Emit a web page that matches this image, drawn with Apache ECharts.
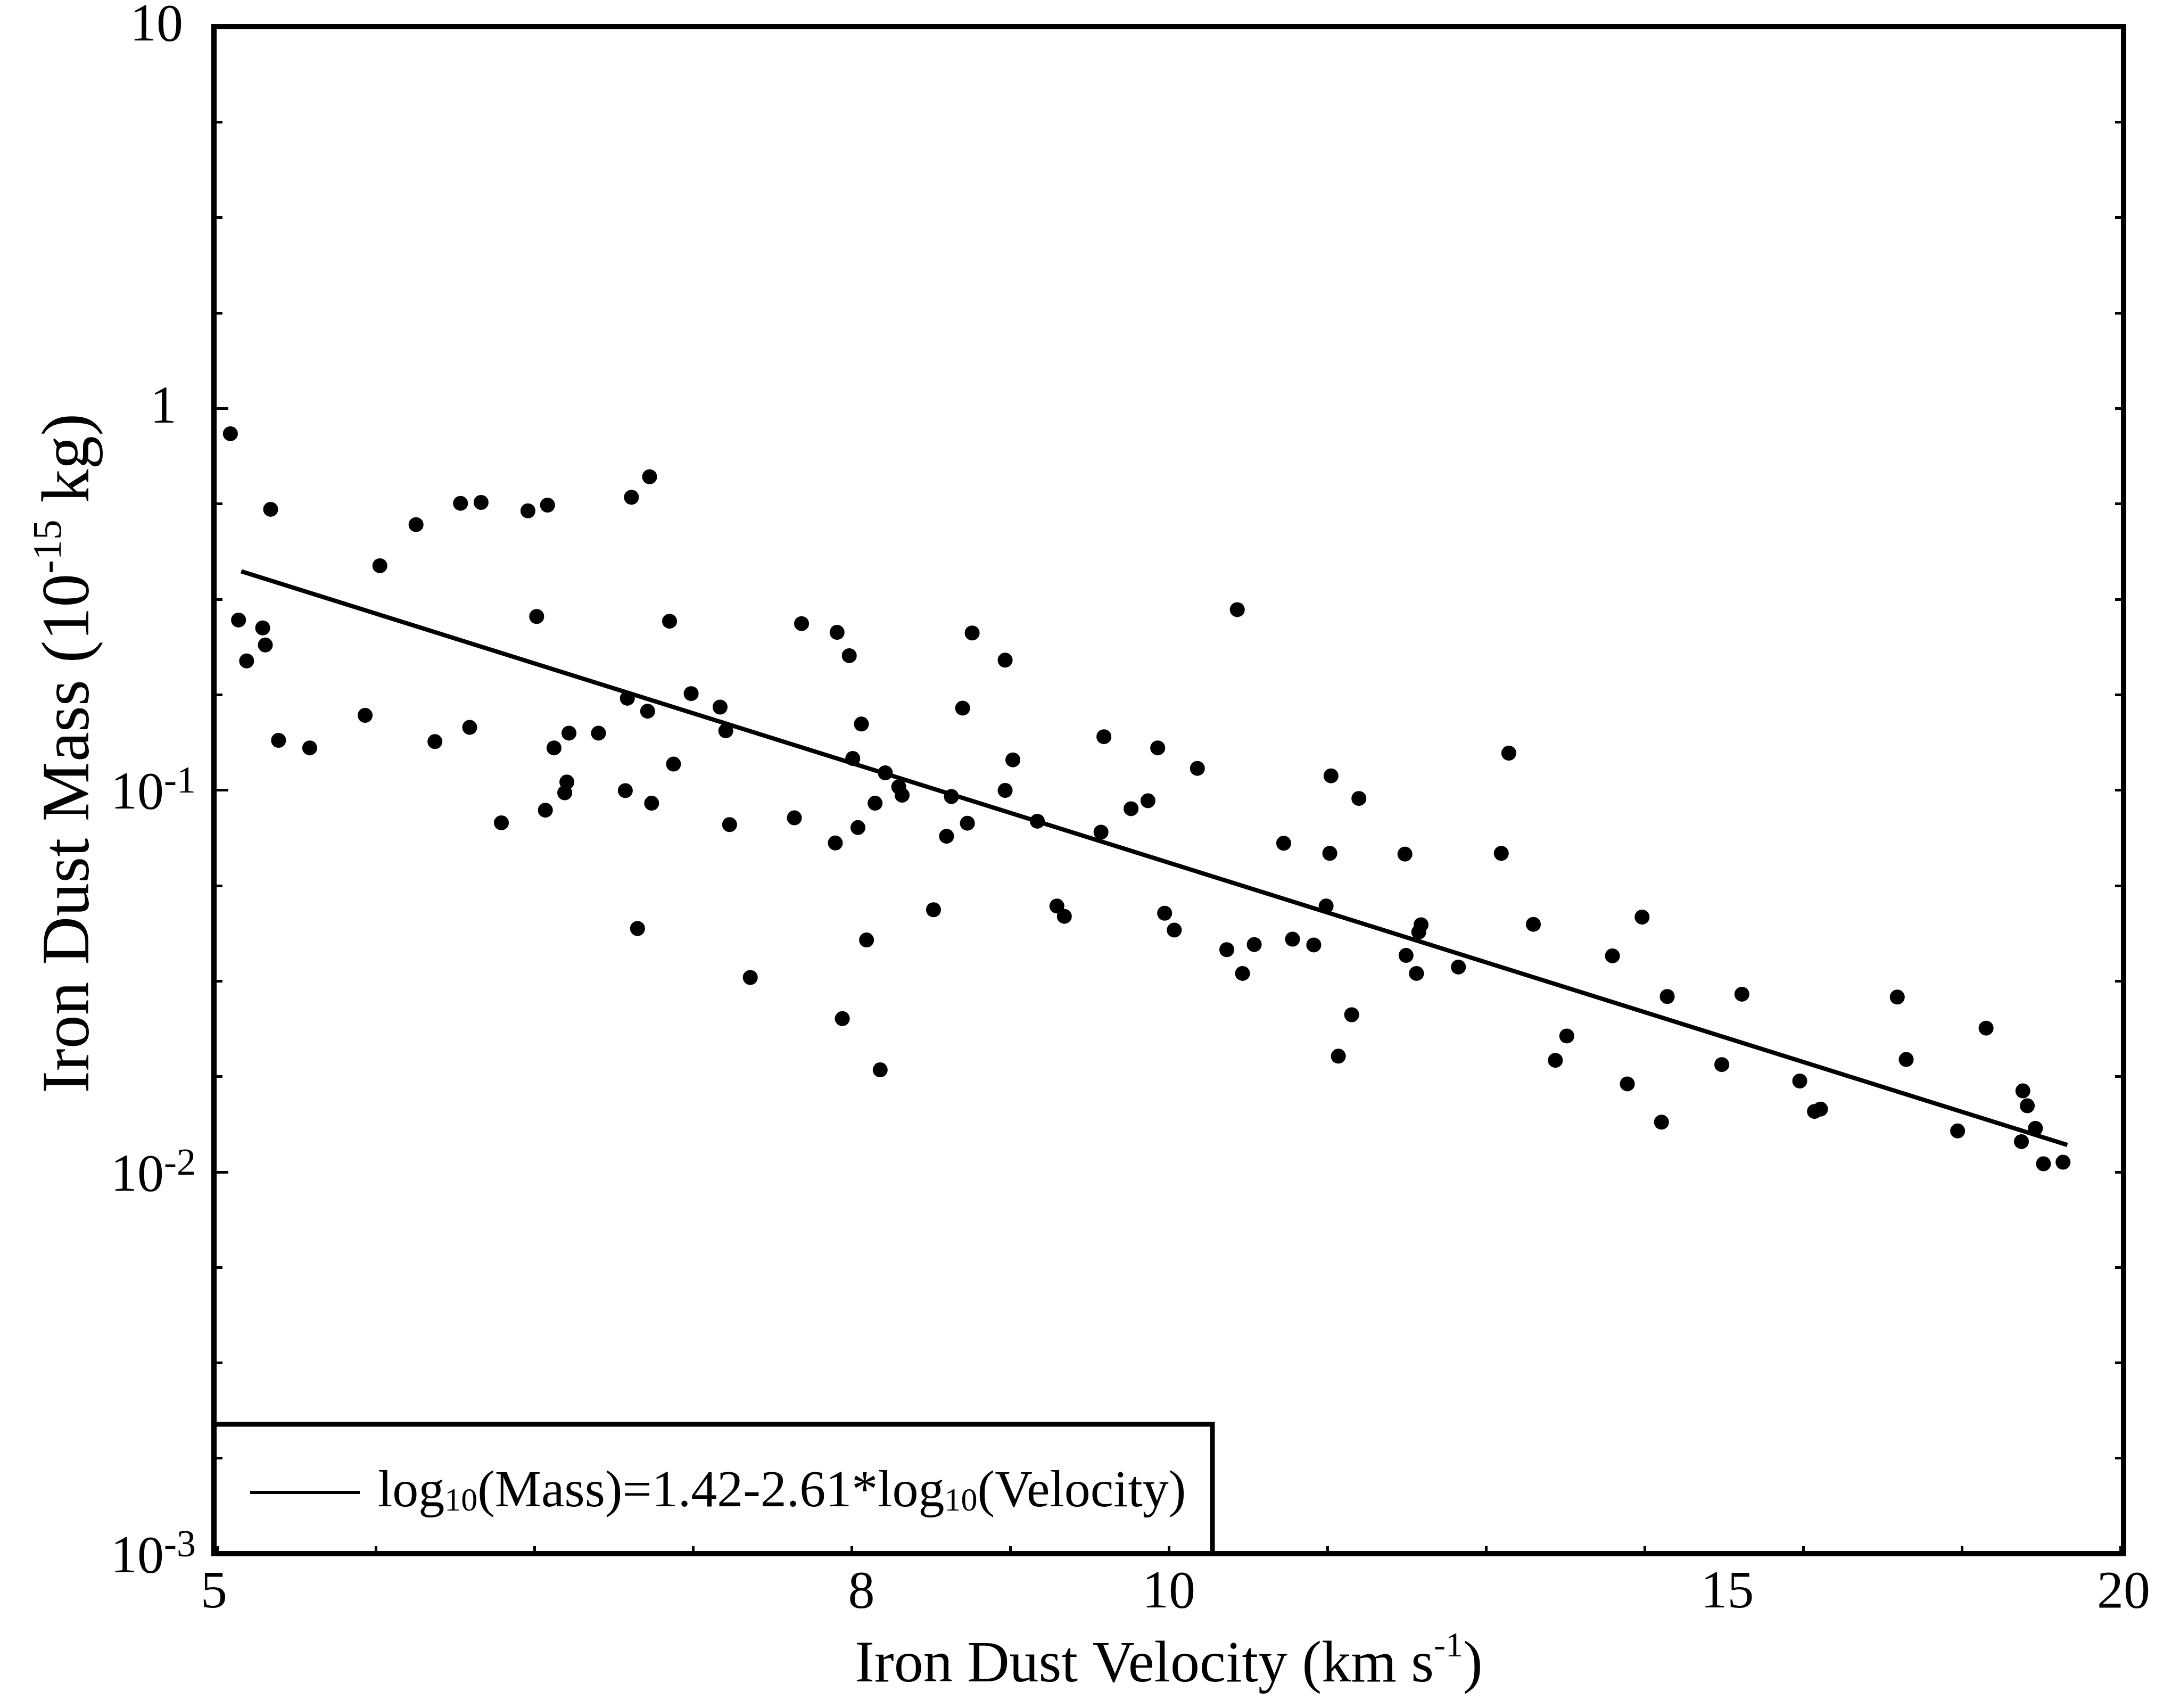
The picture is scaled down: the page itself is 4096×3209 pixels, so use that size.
<!DOCTYPE html>
<html>
<head>
<meta charset="utf-8">
<title>Iron dust mass versus velocity</title>
<script src="https://cdn.jsdelivr.net/npm/echarts@6/dist/echarts.min.js"></script>
<style>
  html, body { margin: 0; padding: 0; background: #ffffff; }
  #chart { width: 4096px; height: 3209px; }
</style>
</head>
<body>
<div id="chart"></div>
<script>
// Measured iron dust particles: impact velocity (km/s) and mass (1e-15 kg)
const velocity = [
  5.06, 5.09, 5.12, 5.18, 5.19, 5.21, 5.24, 5.36, 5.58, 5.64,
  5.79, 5.87, 5.98, 6.02, 6.07, 6.16, 6.28, 6.32, 6.37, 6.36,
  6.40, 6.45, 6.46, 6.47, 6.61, 6.75, 6.74, 6.77, 6.80, 6.85,
  6.86, 6.87, 6.96, 6.98, 7.07, 7.22, 7.25, 7.27, 7.38, 7.62,
  7.66, 7.86, 7.85, 7.89, 7.93, 7.95, 8.00, 7.98, 8.03, 8.08,
  8.11, 8.14, 8.22, 8.24, 8.43, 8.51, 8.54, 8.61, 8.64, 8.67,
  8.88, 8.88, 8.93, 9.09, 9.22, 9.27, 9.52, 9.54, 9.73, 9.85,
  9.92, 9.97, 10.04, 10.21, 10.43, 10.51, 10.55, 10.64, 10.87, 10.94,
  11.11, 11.21, 11.25, 11.24, 11.31, 11.42, 11.48, 11.87, 11.88, 11.97,
  11.99, 12.01, 12.34, 12.73, 12.80, 13.03, 13.24, 13.35, 13.80, 13.95,
  14.10, 14.30, 14.36, 14.94, 15.16, 15.81, 15.98, 16.05, 16.97, 17.08,
  17.73, 18.10, 18.57, 18.59, 18.65, 18.76, 18.87, 19.14
];
const mass = [
  0.858, 0.279, 0.218, 0.266, 0.240, 0.544, 0.135, 0.129, 0.157, 0.387,
  0.496, 0.134, 0.564, 0.146, 0.567, 0.0821, 0.539, 0.285, 0.558, 0.0886,
  0.129, 0.0984, 0.105, 0.141, 0.141, 0.174, 0.0997, 0.585, 0.0434, 0.161,
  0.662, 0.0924, 0.277, 0.117, 0.179, 0.165, 0.143, 0.0812, 0.0323, 0.0846,
  0.273, 0.259, 0.0727, 0.0252, 0.225, 0.121, 0.149, 0.0798, 0.0405, 0.0924,
  0.0185, 0.111, 0.102, 0.0970, 0.0486, 0.0757, 0.0962, 0.164, 0.0819, 0.258,
  0.219, 0.0998, 0.120, 0.0829, 0.0497, 0.0467, 0.0776, 0.138, 0.0894, 0.0938,
  0.129, 0.0476, 0.0430, 0.114, 0.0382, 0.297, 0.0331, 0.0394, 0.0726, 0.0407,
  0.0393, 0.0497, 0.109, 0.0683, 0.0201, 0.0258, 0.0951, 0.0680, 0.0369, 0.0331,
  0.0425, 0.0444, 0.0344, 0.0683, 0.125, 0.0445, 0.0196, 0.0227, 0.0368, 0.0170,
  0.0465, 0.0135, 0.0288, 0.0191, 0.0292, 0.0173, 0.0144, 0.0146, 0.0287, 0.0197,
  0.0128, 0.0238, 0.0120, 0.0163, 0.0149, 0.0130, 0.0105, 0.0106
];

// Axis ranges and labelled velocity ticks
const xTickLabels = [5, 8, 10, 15, 20];
const massRange = [0.001, 10];

// Least-squares fit: log10(Mass) = fitIntercept + fitSlope * log10(Velocity)
const fitIntercept = 1.42;
const fitSlope = -2.61;
const fitRange = [5.1, 19.2];
const fitName = 'log10(Mass)=1.42-2.61*log10(Velocity)';

const SERIF = '"Liberation Serif", "Times New Roman", Times, serif';
const INK = '#000000';

const points = velocity.map((v, i) => [v, mass[i]]);
const fitLine = fitRange.map(v => [v, Math.pow(10, fitIntercept + fitSlope * Math.log10(v))]);

const vMinLog = Math.log10(xTickLabels[0]);
const vMaxLog = Math.log10(xTickLabels[xTickLabels.length - 1]);
const mMinLog = Math.log10(massRange[0]);
const mMaxLog = Math.log10(massRange[1]);

// small inward ticks every 0.05 decade along the velocity axis
const velocityTicks = [];
for (let k = Math.ceil(vMinLog * 20); k <= Math.floor(vMaxLog * 20); k++) velocityTicks.push(k / 20);

const grid = { left: 402, right: 106, top: 46, bottom: 290 };
const legendBox = { x: 402, y: 2676, width: 1876, height: 243 };

const TICK = { color: INK, width: 5 };
const NO_LINE = { show: false, onZero: false };

const chart = echarts.init(document.getElementById('chart'), null, { renderer: 'canvas' });

const option = {
  backgroundColor: '#ffffff',
  animation: false,
  grid: Object.assign({ show: true, borderColor: INK, borderWidth: 10, backgroundColor: 'transparent' }, grid),
  xAxis: [
    {
      // data axis (logarithmic velocity)
      type: 'log', logBase: 10,
      min: xTickLabels[0], max: xTickLabels[xTickLabels.length - 1],
      axisLine: NO_LINE,
      show: false
    },
    {
      // tick / label axis in decades of velocity
      type: 'value', position: 'bottom',
      min: vMinLog, max: vMaxLog,
      axisLine: NO_LINE,
      splitLine: { show: false },
      axisTick: { show: true, inside: true, length: 14, lineStyle: TICK, customValues: velocityTicks },
      axisLabel: {
        show: true, margin: 25,
        customValues: xTickLabels.map(Math.log10),
        formatter: v => String(Math.round(Math.pow(10, v))),
        fontFamily: SERIF, fontSize: 100, color: INK
      },
      name: '{t|Iron Dust Velocity (km s}{s|-1}{t|)}',
      nameLocation: 'middle',
      nameGap: 132,
      nameTextStyle: {
        color: INK, fontFamily: SERIF, fontSize: 110,
        rich: {
          t: { fontFamily: SERIF, fontSize: 110, lineHeight: 110, color: INK, padding: [26, 0, 0, 0] },
          s: { fontFamily: SERIF, fontSize: 66, lineHeight: 66, color: INK, verticalAlign: 'top' }
        }
      }
    }
  ],
  yAxis: [
    {
      // data axis (logarithmic mass) with decade labels
      type: 'log', logBase: 10, position: 'left',
      min: massRange[0], max: massRange[1],
      axisLine: NO_LINE,
      splitLine: { show: false },
      axisTick: { show: true, inside: true, length: 27, lineStyle: TICK },
      axisLabel: {
        show: true, margin: 34,
        fontFamily: SERIF, fontSize: 100, color: INK,
        formatter: v => {
          const e = Math.round(Math.log10(v));
          if (e === 1) return '{p10|10}';
          if (e === 0) return '{p1|1}';
          return '{b|10}{s|' + e + '}';
        },
        rich: {
          b: { fontFamily: SERIF, fontSize: 100, lineHeight: 100, color: INK, padding: [38, 0, 21, 0] },
          s: { fontFamily: SERIF, fontSize: 72, lineHeight: 72, color: INK, verticalAlign: 'top' },
          p10: { fontFamily: SERIF, fontSize: 100, lineHeight: 100, color: INK, padding: [0, 24, 0, 0] },
          p1: { fontFamily: SERIF, fontSize: 100, lineHeight: 100, color: INK, padding: [0, 36, 0, 0] }
        }
      },
      name: '{t|Iron Dust Mass (10}{s|-15}{t| kg)}',
      nameLocation: 'middle',
      nameGap: 220,
      nameRotate: 90,
      nameTextStyle: {
        color: INK, fontFamily: SERIF, fontSize: 126,
        padding: [0, 0, 0, 138],
        rich: {
          t: { fontFamily: SERIF, fontSize: 126, lineHeight: 126, color: INK, padding: [28, 0, 0, 0] },
          s: { fontFamily: SERIF, fontSize: 76, lineHeight: 76, color: INK, verticalAlign: 'top' }
        }
      }
    },
    {
      // quarter-decade ticks on the left edge
      type: 'value', position: 'left',
      min: mMinLog, max: mMaxLog, interval: 0.25,
      axisLine: NO_LINE,
      splitLine: { show: false },
      axisLabel: { show: false },
      axisTick: { show: true, inside: true, length: 16, lineStyle: TICK }
    },
    {
      // quarter-decade ticks on the right edge
      type: 'value', position: 'right',
      min: mMinLog, max: mMaxLog, interval: 0.25,
      axisLine: NO_LINE,
      splitLine: { show: false },
      axisLabel: { show: false },
      axisTick: { show: true, inside: true, length: 16, lineStyle: TICK }
    }
  ],
  legend: {
    show: true,
    data: [fitName],
    left: 470, top: 2755,
    padding: 0,
    icon: 'rect',
    itemWidth: 206, itemHeight: 6,
    itemStyle: { color: INK, borderWidth: 0 },
    selectedMode: false,
    formatter: () => '{t|log}{u|10}{t|(Mass)=1.42-2.61*log}{u|10}{t|(Velocity)}',
    textStyle: {
      color: INK, fontFamily: SERIF, fontSize: 98,
      padding: [0, 0, 0, 29],
      rich: {
        t: { fontFamily: SERIF, fontSize: 98, lineHeight: 98, color: INK, verticalAlign: 'top', padding: [0, 0, 9, 0] },
        u: { fontFamily: SERIF, fontSize: 62, lineHeight: 62, color: INK, verticalAlign: 'bottom' }
      }
    }
  },
  graphic: [
    {
      type: 'rect', z: 3, silent: true,
      shape: legendBox,
      style: { fill: null, stroke: INK, lineWidth: 9 }
    }
  ],
  series: [
    {
      name: 'Iron dust particles',
      type: 'scatter',
      xAxisIndex: 0, yAxisIndex: 0,
      data: points,
      symbol: 'circle',
      symbolSize: 28,
      itemStyle: { color: INK, opacity: 1 },
      z: 3
    },
    {
      name: fitName,
      type: 'line',
      xAxisIndex: 0, yAxisIndex: 0,
      data: fitLine,
      showSymbol: false,
      symbol: 'none',
      color: INK,
      lineStyle: { color: INK, width: 8 },
      z: 2
    }
  ]
};

chart.setOption(option);
</script>
</body>
</html>
